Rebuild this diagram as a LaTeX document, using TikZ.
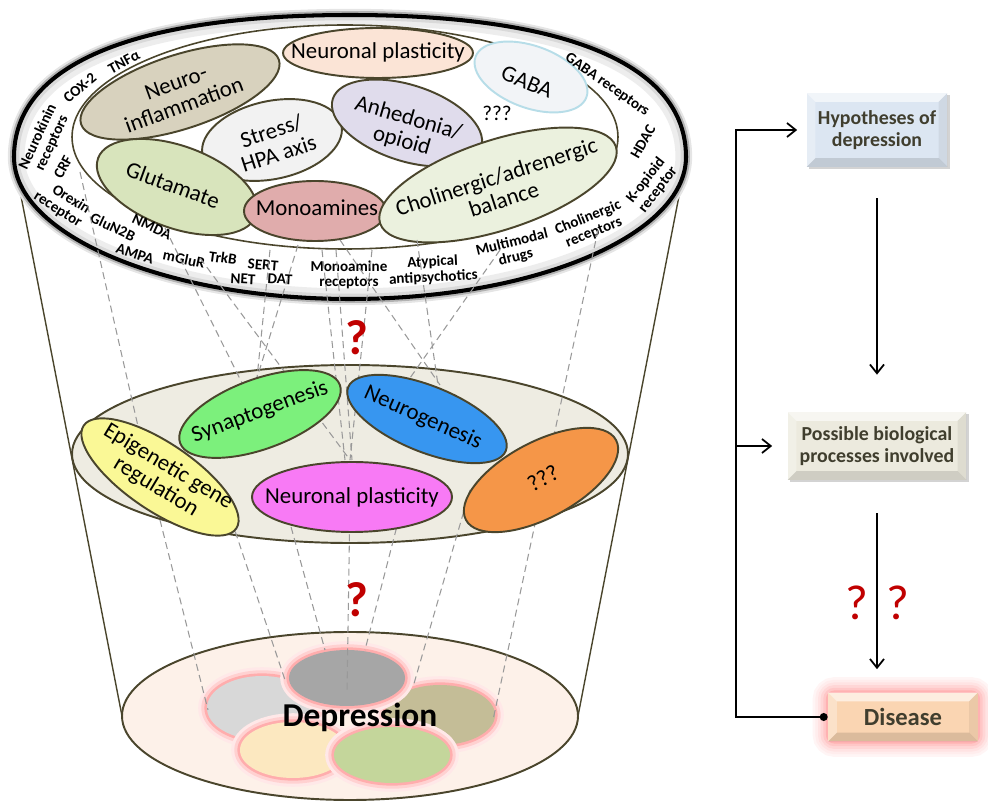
\documentclass[tikz,border=0pt]{standalone}
\usepackage{fontspec}
\setmainfont{Carlito}
\usepackage{tikz}
\usetikzlibrary{arrows.meta,shadows}
\pgfdeclarelayer{background}
\pgfsetlayers{background,main}

\definecolor{rimline}{RGB}{74,69,44}
\definecolor{midfill}{RGB}{238,236,226}
\definecolor{botfill}{RGB}{253,241,233}
\definecolor{inflfill}{RGB}{216,210,190}
\definecolor{plastfill}{RGB}{251,228,214}
\definecolor{gabafill}{RGB}{242,244,247}
\definecolor{gababorder}{RGB}{183,221,232}
\definecolor{stressfill}{RGB}{242,242,242}
\definecolor{anhedfill}{RGB}{224,220,236}
\definecolor{glutfill}{RGB}{216,228,188}
\definecolor{monofill}{RGB}{224,172,172}
\definecolor{cholfill}{RGB}{235,241,222}
\definecolor{synfill}{RGB}{124,240,124}
\definecolor{neurogfill}{RGB}{55,150,240}
\definecolor{epifill}{RGB}{250,248,150}
\definecolor{plastmidfill}{RGB}{248,122,245}
\definecolor{unkfill}{RGB}{245,150,72}
\definecolor{blobA}{RGB}{216,216,216}
\definecolor{blobB}{RGB}{196,189,151}
\definecolor{blobC}{RGB}{166,166,166}
\definecolor{blobD}{RGB}{252,232,192}
\definecolor{blobE}{RGB}{196,214,155}
\definecolor{hypfill}{RGB}{220,230,242}
\definecolor{procfill}{RGB}{236,234,222}
\definecolor{disfill}{RGB}{250,213,178}
\definecolor{boxtext}{RGB}{64,62,46}
\definecolor{qred}{RGB}{192,0,0}

\newcommand\rimpath{(686,157) .. controls (686,65) and (568,15) .. (350,15)
  .. controls (132,15) and (14,65) .. (14,157)
  .. controls (14,235) and (165,299) .. (350,299)
  .. controls (535,299) and (686,235) .. (686,157) -- cycle}

\tikzset{
  bubble/.style={draw=rimline, line width=1.1pt},
  cone/.style={draw=rimline, line width=0.8pt},
  guide/.style={draw=black!40, dash pattern=on 4pt off 2.5pt, line width=0.6pt},
  bigtxt/.style={font=\fontsize{13}{13.5}\selectfont, align=center, inner sep=0pt},
  rimtxt/.style={font=\bfseries\fontsize{8.6}{8.8}\selectfont, align=center, inner sep=0pt},
  blob/.style={fill=#1, preaction={draw=red!9, line width=10pt}, preaction={draw=red!18, line width=6.5pt},
    preaction={draw=red!32, line width=3pt}},
  qmark/.style={text=qred, font=\bfseries\fontsize{28}{28}\selectfont, inner sep=0pt},
  qflow/.style={text=qred, font=\fontsize{28}{28}\selectfont, inner sep=0pt},
  flowline/.style={draw=black, line width=1pt},
  flowarr/.style={flowline, -{Straight Barb[length=5pt,width=8pt]}},
  fbox/.style={fill=#1, text=boxtext, align=center, inner sep=2pt,
    font=\bfseries\fontsize{11.3}{12.5}\selectfont,
    path picture={
      \fill[white, opacity=.6] (path picture bounding box.north west) -- (path picture bounding box.north east)
        -- ([xshift=-5pt,yshift=-5pt]path picture bounding box.north east) -- ([xshift=5pt,yshift=-5pt]path picture bounding box.north west) -- cycle;
      \fill[white, opacity=.3] (path picture bounding box.north west) -- ([xshift=5pt,yshift=-5pt]path picture bounding box.north west)
        -- ([xshift=5pt,yshift=5pt]path picture bounding box.south west) -- (path picture bounding box.south west) -- cycle;
      \fill[black, opacity=.12] (path picture bounding box.south west) -- ([xshift=5pt,yshift=5pt]path picture bounding box.south west)
        -- ([xshift=-5pt,yshift=5pt]path picture bounding box.south east) -- (path picture bounding box.south east) -- cycle;
      \fill[black, opacity=.06] (path picture bounding box.north east) -- (path picture bounding box.south east)
        -- ([xshift=-5pt,yshift=5pt]path picture bounding box.south east) -- ([xshift=-5pt,yshift=-5pt]path picture bounding box.north east) -- cycle;
    }},
  boxshadow/.style={drop shadow={shadow xshift=1.2pt, shadow yshift=-1.2pt, opacity=.35}}
}

\begin{document}
\begin{tikzpicture}[x=0.02cm, y=-0.02cm]
\useasboundingbox (0,0) rectangle (988,803);

% cone and the two lower layers
\draw[cone] (14,160) -- (122,716);
\draw[cone] (686,160) -- (578,716);
\draw[bubble, fill=midfill] (350,454) ellipse [x radius=278, y radius=89];
\draw[bubble, fill=botfill] (350,716) ellipse [x radius=228, y radius=84];
\path[blob=blobA] (262,708) ellipse [x radius=55, y radius=32];
\path[blob=blobB] (440,715) ellipse [x radius=55, y radius=30];
\path[blob=blobC] (347,678) ellipse [x radius=58, y radius=28];
\path[blob=blobD] (293,750) ellipse [x radius=53, y radius=28];
\path[blob=blobE] (392,755) ellipse [x radius=58, y radius=28];

% top ring
\draw[line width=7pt, black!10] \rimpath;
\draw[line width=4.5pt, black!30] \rimpath;
\fill[white] \rimpath;
\begin{scope}
\clip \rimpath;
\draw[line width=12pt, black!7] \rimpath;
\draw[line width=6pt, black!15] \rimpath;
\end{scope}
\draw[line width=2.3pt] \rimpath;
\draw[bubble, line width=0.9pt, fill=white] (345,137) ellipse [x radius=273, y radius=112];

\draw[bubble, fill=inflfill, rotate around={18:(180,92)}] (180,92) ellipse [x radius=104, y radius=37];
\draw[bubble, fill=plastfill] (378,53) ellipse [x radius=95, y radius=25];
\draw[draw=gababorder, line width=1.1pt, fill=gabafill, rotate around={-20:(531,77)}] (531,77) ellipse [x radius=59, y radius=31];
\draw[bubble, fill=stressfill, rotate around={12:(272,140)}] (272,140) ellipse [x radius=71, y radius=39];
\draw[bubble, fill=anhedfill, rotate around={-18:(407,123)}] (407,123) ellipse [x radius=78, y radius=38];
\draw[bubble, fill=glutfill, rotate around={-20:(177,187)}] (177,187) ellipse [x radius=84, y radius=41];
\draw[bubble, fill=monofill] (315,211) ellipse [x radius=71, y radius=30];
\draw[bubble, fill=cholfill, rotate around={18:(498,185)}] (498,185) ellipse [x radius=124, y radius=45];

\node[bigtxt, rotate=20] (neuroinfl) at (180,94) {Neuro-\\inflammation};
\node[bigtxt] (plasttop) at (378,52) {Neuronal plasticity};
\node[bigtxt, rotate=-22] (gaba) at (527,82) {GABA};
\node[bigtxt, rotate=18] (stress) at (275,142) {Stress/\\HPA axis};
\node[bigtxt, rotate=-16] (anhed) at (405,130) {Anhedonia/\\opioid};
\node[bigtxt, rotate=-20] (glut) at (173,185) {Glutamate};
\node[bigtxt] (mono) at (317,208) {Monoamines};
\node[bigtxt, rotate=18] (cholin) at (500,188) {Cholinergic/adrenergic\\balance};
\node[font=\fontsize{12}{12}\selectfont, inner sep=0pt] (unktop) at (497,113) {???};

\node[rimtxt, rotate=28] (tnf) at (124,62) {TNFα};
\node[rimtxt, rotate=40] (cox) at (80,88) {COX-2};
\node[rimtxt, rotate=65] (nk) at (45,140) {Neurokinin\\receptors};
\node[rimtxt, rotate=62] (crf) at (63,167) {CRF};
\node[rimtxt, rotate=-32, align=right] (orx) at (62,203) {Orexin\\receptor};
\node[rimtxt, rotate=-25] (glun) at (113,227) {GluN2B};
\node[rimtxt, rotate=-25] (nmda) at (152,227) {NMDA};
\node[rimtxt, rotate=-18] (ampa) at (135,254) {AMPA};
\node[rimtxt, rotate=-12] (mglur) at (184,259) {mGluR};
\node[rimtxt, rotate=-8] (trkb) at (223,258) {TrkB};
\node[rimtxt, rotate=-5] (sert) at (263,265) {SERT};
\node[rimtxt, rotate=-3] (net) at (243,279) {NET};
\node[rimtxt, rotate=-3] (dat) at (280,279) {DAT};
\node[rimtxt] (monorec) at (349,275) {Monoamine\\receptors};
\node[rimtxt, rotate=3] (atyp) at (433,270) {Atypical\\antipsychotics};
\node[rimtxt, rotate=14] (multi) at (514,250) {Multimodal\\drugs};
\node[rimtxt, rotate=22] (cholrec) at (591,225) {Cholinergic\\receptors};
\node[rimtxt, rotate=52] (kop) at (652,185) {K-opioid\\receptor};
\node[rimtxt, rotate=60] (hdac) at (643,142) {HDAC};
\node[rimtxt, rotate=-35] (gabarec) at (607,85) {GABA receptors};

% dashed guides
\foreach \xa/\ya/\xb/\yb in {80/172/140/435, 165/228/243/385, 200/258/350/460, 298/245/257/378,
    270/250/257/378, 322/250/345/460, 336/250/352/460, 372/250/350/460, 340/240/440/385,
    417/240/438/385, 500/250/410/378, 598/230/493/720, 160/520/208/710, 228/510/285/680,
    285/505/325/650, 350/500/347/693, 405/495/365/650, 470/490/413/687}
  \draw[guide] (\xa,\ya) -- (\xb,\yb);

% middle layer
\draw[bubble, fill=synfill, rotate around={20:(260,414)}] (260,414) ellipse [x radius=85, y radius=35];
\draw[bubble, fill=neurogfill, rotate around={-22:(427,419)}] (427,419) ellipse [x radius=85, y radius=33];
\draw[bubble, fill=epifill, rotate around={-34:(160,477)}] (160,477) ellipse [x radius=92, y radius=34];
\draw[bubble, fill=plastmidfill] (352,497) ellipse [x radius=100, y radius=35];
\draw[bubble, fill=unkfill, rotate around={28:(541,480)}] (541,480) ellipse [x radius=85, y radius=38];

\node[bigtxt, rotate=20] (synap) at (260,412) {Synaptogenesis};
\node[bigtxt, rotate=-24] (neurog) at (423,418) {Neurogenesis};
\node[bigtxt, rotate=-31] (epig) at (162,477) {Epigenetic gene\\regulation};
\node[bigtxt] (plastmid) at (352,497) {Neuronal plasticity};
\node[bigtxt, rotate=28] (unkmid) at (543,478) {???};

\node[font=\bfseries\fontsize{19}{19}\selectfont, inner sep=0pt] (depr) at (360,717) {Depression};
\node[qmark] (qtop) at (357,338) {?};
\node[qmark] (qbot) at (357,600) {?};

% flow on the right
\node[fbox=hypfill, boxshadow, minimum width=2.82cm, minimum height=1.48cm] (hyp) at (877,130) {Hypotheses of\\depression};
\node[fbox=procfill, boxshadow, minimum width=3.58cm, minimum height=1.36cm] (proc) at (877,446) {Possible biological\\processes involved};
\node[fbox=disfill, minimum width=3.0cm, minimum height=0.98cm, font=\bfseries\fontsize{14}{14}\selectfont] (dis) at (903,717) {Disease};
\begin{pgfonlayer}{background}
\foreach \w/\c in {17pt/4, 14pt/7, 11pt/11, 8pt/16, 5pt/22, 2pt/30}
  \draw[red!\c, line width=\w, rounded corners=4pt] (dis.south west) rectangle (dis.north east);
\end{pgfonlayer}
\coordinate (fb) at (736,0);

\draw[flowarr, shorten <=0.62cm, shorten >=0.74cm] (hyp.south) -- (hyp.south |- proc.north);
\draw[flowarr, shorten <=0.66cm, shorten >=0.46cm] (proc.south) -- (proc.south |- dis.north);
\draw[flowline, {Circle[length=4.5pt]}-{Straight Barb[length=5pt,width=8pt]}, shorten >=0.18cm] (dis.west) -- (dis.west -| fb) |- (hyp.west);
\draw[flowarr, shorten >=0.3cm] (proc.west -| fb) -- (proc.west);
\node[qflow] (qleft) at (857,603) {?};
\node[qflow] (qright) at (898,603) {?};
\end{tikzpicture}
\end{document}
